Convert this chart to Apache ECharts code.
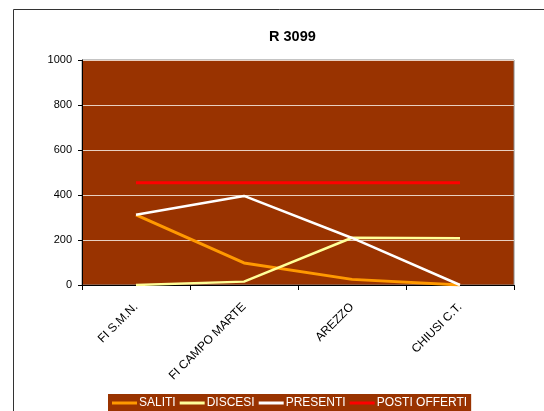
<!DOCTYPE html>
<html><head><meta charset="utf-8">
<script src="https://cdn.jsdelivr.net/npm/echarts@6/dist/echarts.min.js"></script>
<style>html,body{margin:0;padding:0;background:#fff}#c{width:544px;height:411px}</style>
</head><body><div id="c"></div>
<script>
const categories = ['FI S.M.N.', 'FI CAMPO MARTE', 'AREZZO', 'CHIUSI C.T.'];
const saliti = [312, 98, 25, 0];
const discesi = [0, 15, 210, 208];
const presenti = [312, 396, 209, 0];
const postiOfferti = [455, 455, 455, 455];
const yTicks = [0, 200, 400, 600, 800, 1000];

const chart = echarts.init(document.getElementById('c'), null, {renderer: 'canvas'});
const font = 'Liberation Sans, Arial, sans-serif';
const mk = (name, data, color, w) => ({
  name, type: 'line', data, symbol: 'none', animation: false,
  lineStyle: {color, width: w}, itemStyle: {color}
});
chart.setOption({
  animation: false,
  textStyle: {fontFamily: font},
  graphic: [{type: 'rect', shape: {x: 13.5, y: 9.5, width: 700, height: 600},
    style: {fill: 'none', stroke: '#333', lineWidth: 1}, z: -10}],
  title: {text: 'R 3099', left: 264, top: 24,
    textStyle: {fontFamily: font, fontSize: 14.5, fontWeight: 'bold', color: '#000'}},
  grid: {left: 82, right: 30, top: 60, bottom: 126, show: true,
    backgroundColor: '#993300', borderColor: '#888', borderWidth: 1},
  legend: {
    left: 108, top: 394, backgroundColor: '#993300', padding: [3, 4, 3, 4],
    itemWidth: 25, itemHeight: 3, itemGap: 4, icon: 'rect',
    textStyle: {color: '#fff', fontFamily: font, fontSize: 12, padding: [0, 0, 0, -3]},
    data: ['SALITI', 'DISCESI', 'PRESENTI', 'POSTI OFFERTI']
  },
  xAxis: {
    type: 'category', data: categories, boundaryGap: true,
    axisLine: {lineStyle: {color: '#000', width: 1}},
    axisTick: {show: true, length: 5, lineStyle: {color: '#000'}},
    axisLabel: {rotate: 45, color: '#000', fontSize: 12, fontFamily: font, margin: 20, interval: 0},
    splitLine: {show: false}
  },
  yAxis: {
    type: 'value', min: 0, max: 1000, interval: 200,
    axisLine: {show: true, lineStyle: {color: '#000', width: 1}},
    axisTick: {show: true, length: 4, lineStyle: {color: '#000'}},
    axisLabel: {color: '#000', fontSize: 11, fontFamily: font, margin: 10,
      formatter: v => yTicks.includes(v) ? String(v) : ''},
    splitLine: {show: true, lineStyle: {color: '#e8d0c0', width: 1}}
  },
  series: [
    mk('SALITI', saliti, '#FF9900', 3),
    mk('DISCESI', discesi, '#FFFF99', 2.5),
    mk('PRESENTI', presenti, '#FFFFFF', 2.5),
    mk('POSTI OFFERTI', postiOfferti, '#FF0000', 3)
  ]
});
</script></body></html>
